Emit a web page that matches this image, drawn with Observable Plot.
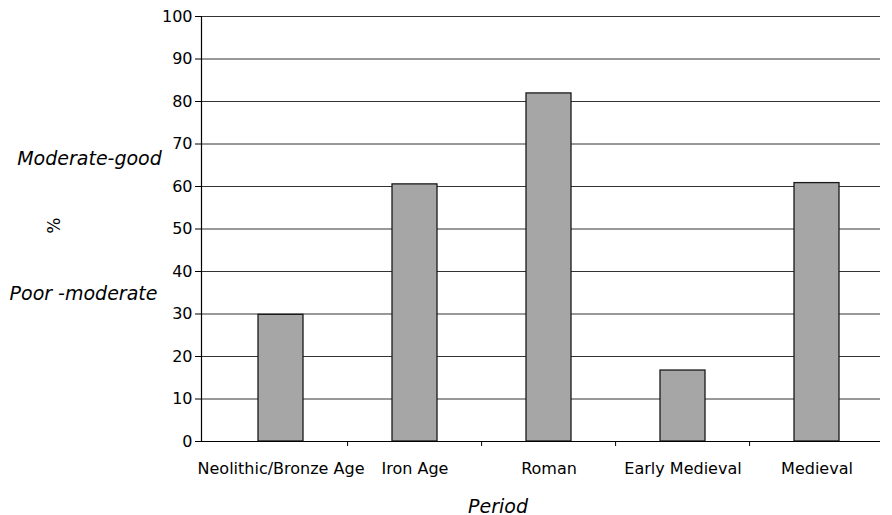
<!DOCTYPE html>
<html>
<head>
<meta charset="utf-8">
<script src="https://cdn.jsdelivr.net/npm/d3@7"></script>
<script src="https://cdn.jsdelivr.net/npm/@observablehq/plot@0.6"></script>
<style>
  html, body { margin: 0; padding: 0; background: #fff; }
  #chart { width: 892px; height: 515px; }
</style>
</head>
<body>
<div id="chart"></div>
<script>
const periods = ["Neolithic/Bronze Age", "Iron Age", "Roman", "Early Medieval", "Medieval"];
const percents = [29.8, 60.5, 81.9, 16.7, 60.8];
const yTicks = [0, 10, 20, 30, 40, 50, 60, 70, 80, 90, 100];
const sideLabels = ["Moderate-good", "%", "Poor -moderate"];
const sideLabelY = [66.6, 50.8, 34.8];
const xTitle = "Period";

const data = periods.map((p, i) => ({period: p, value: percents[i]}));
const side = sideLabels.map((t, i) => ({text: t, y: sideLabelY[i]}));
const font = "DejaVu Sans, Verdana, sans-serif";
const sideText = (label, opts) => Plot.text(side.filter(d => d.text === label), {
  y: "y", text: "text", frameAnchor: "left", textAnchor: "middle", fill: "#000", ...opts
});

const chart = Plot.plot({
  width: 892,
  height: 515,
  marginLeft: 201,
  marginRight: 12,
  marginTop: 16,
  marginBottom: 74,
  style: {fontFamily: font, fontSize: "16px", color: "#000", background: "#fff"},
  x: {domain: periods, range: [211, 885], paddingInner: 0.665, paddingOuter: 0.3325, label: null},
  y: {domain: [0, 100], label: null},
  marks: [
    Plot.ruleY(yTicks.slice(1), {stroke: "#333", strokeWidth: 1}),
    Plot.barY(data, {x: "period", y: "value", fill: "#a6a6a6", stroke: "#1a1a1a", strokeWidth: 1.3}),
    Plot.ruleY([0], {stroke: "#000", strokeWidth: 1.2}),
    Plot.ruleX(periods.slice(1), {x: d => d, y1: 0, y2: 0, insetBottom: -5, dx: -67.4, stroke: "#000"}),
    Plot.axisY({ticks: yTicks, tickSize: 6, tickPadding: 3, tickFormat: d => String(d), fontSize: 16, stroke: "#000"}),
    Plot.frame({anchor: "left", stroke: "#000", strokeWidth: 1.2}),
    Plot.axisX({tickSize: 0, tickPadding: 21, fontSize: 16}),
    sideText("Moderate-good", {dx: -112, fontSize: 19, fontStyle: "italic"}),
    sideText("Poor -moderate", {dx: -118, fontSize: 19, fontStyle: "italic"}),
    sideText("%", {dx: -147, rotate: -90, fontSize: 17}),
    Plot.text([xTitle], {
      text: d => d, frameAnchor: "bottom", dx: -43, dy: 71,
      fontSize: 19, fontStyle: "italic", fill: "#000"
    })
  ]
});
document.getElementById("chart").appendChild(chart);
</script>
</body>
</html>
